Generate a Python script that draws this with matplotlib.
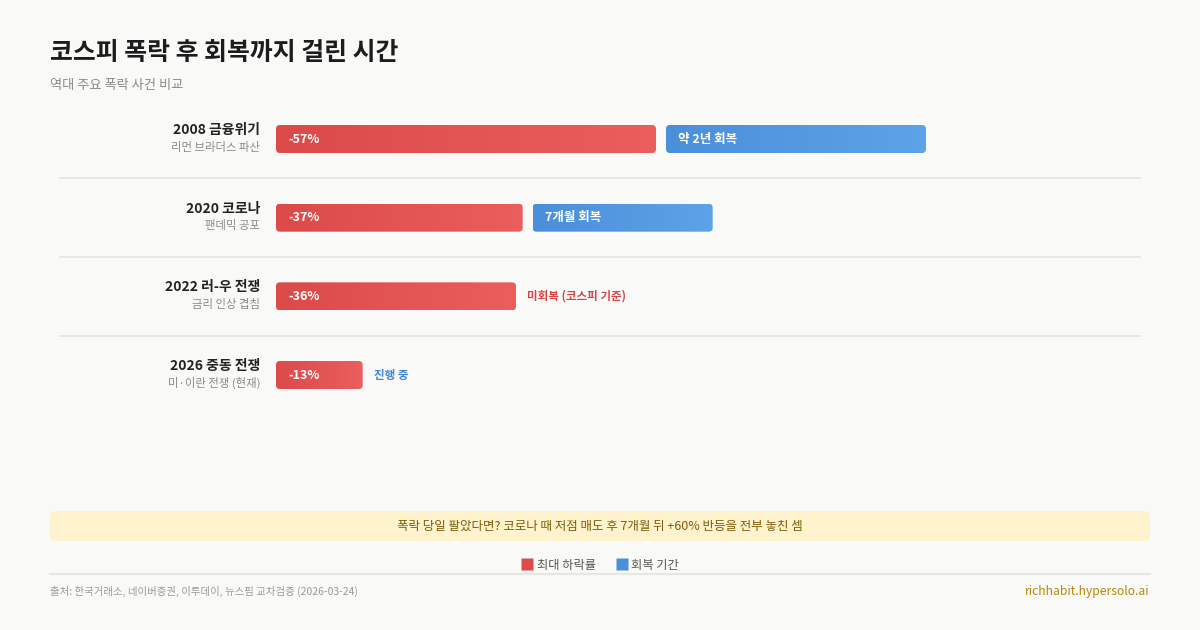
import numpy as np
import matplotlib

matplotlib.use("Agg")
import matplotlib.pyplot as plt
from matplotlib.colors import LinearSegmentedColormap
from matplotlib.lines import Line2D
from matplotlib.patches import FancyBboxPatch
from matplotlib import transforms

plt.rcParams["font.family"] = ["Noto Sans CJK KR", "DejaVu Sans"]

# ---------------------------------------------------------------------------
# Data
# ---------------------------------------------------------------------------
EVENTS = ["2008 금융위기", "2020 코로나", "2022 러-우 전쟁", "2026 중동 전쟁"]
SUBLABELS = ["리먼 브라더스 파산", "팬데믹 공포", "금리 인상 겹침", "미·이란 전쟁 (현재)"]
DROP_PCT = [57, 37, 36, 13]  # maximum drawdown, %
DROP_LABELS = ["-57%", "-37%", "-36%", "-13%"]
# recovery bar length (drawn on the same scale as the drawdown), None = no bar
RECOVERY_LEN = [39, 27, None, None]
RECOVERY_LABELS = ["약 2년 회복", "7개월 회복", "미회복 (코스피 기준)", "진행 중"]

TITLE = "코스피 폭락 후 회복까지 걸린 시간"
SUBTITLE = "역대 주요 폭락 사건 비교"
CALLOUT = "폭락 당일 팔았다면? 코로나 때 저점 매도 후 7개월 뒤 +60% 반등을 전부 놓친 셈"
SOURCE = "출처: 한국거래소, 네이버증권, 이투데이, 뉴스핌 교차검증 (2026-03-24)"
SITE = "richhabit.hypersolo.ai"

# palette
BG = "#f9f9f7"
RED_L, RED_R = "#dc4a4a", "#ea5e5e"
BLUE_L, BLUE_R = "#4a8fd9", "#5da3e8"
RED_TXT = "#d64545"
BLUE_TXT = "#3f86d4"

W, H = 1200, 630
fig = plt.figure(figsize=(W / 100, H / 100), dpi=100, facecolor=BG)

# background / layout axes in pixel coordinates
bg = fig.add_axes([0, 0, 1, 1], zorder=0)
bg.set_xlim(0, W)
bg.set_ylim(H, 0)
bg.axis("off")

bg.text(50, 53, TITLE, fontsize=17.9, fontweight="bold", color="#1c1c1c", va="center")
bg.text(50, 85, SUBTITLE, fontsize=9.5, color="#8a8a8a", va="center")

# callout box
bg.add_patch(FancyBboxPatch((50, 511), 1100, 30, boxstyle="round,pad=0,rounding_size=6",
                            fc="#fff3cd", ec="none"))
bg.text(600, 526, CALLOUT, fontsize=9, color="#7d5c07", ha="center", va="center")

# footer
bg.plot([50, 1150], [574, 574], color="#e6e6e3", lw=1.5)
bg.text(50, 591, SOURCE, fontsize=7.5, color="#9a9a9a", va="center")
bg.text(1150, 591, SITE, fontsize=8.7, color="#b8860b", ha="right", va="center")

# legend
handles = [
    Line2D([], [], ls="none", marker="s", ms=8, mfc=RED_L, mec="none", label="최대 하락률"),
    Line2D([], [], ls="none", marker="s", ms=8, mfc=BLUE_L, mec="none", label="회복 기간"),
]
fig.legend(handles=handles, loc="center", bbox_to_anchor=(0.5, 1 - 565 / H), ncol=2,
           frameon=False, fontsize=8.8, handletextpad=0.3, columnspacing=1.6,
           labelcolor="#555555", handlelength=1.0)

# ---------------------------------------------------------------------------
# Bar axes
# ---------------------------------------------------------------------------
PX_PER_UNIT = 380 / 57
AX_LEFT, AX_W = 276, 900
AX_TOP, ROW = 99.67, 78.67
n = len(EVENTS)
ax = fig.add_axes([AX_LEFT / W, 1 - (AX_TOP + n * ROW) / H, AX_W / W, n * ROW / H],
                  zorder=1)
ax.patch.set_alpha(0)
ax.axis("off")

XMAX = AX_W / PX_PER_UNIT
BAR_H = 28 / ROW
GAP = 10 / PX_PER_UNIT
PAD = 12 / PX_PER_UNIT
R = 4 / PX_PER_UNIT
ASPECT = PX_PER_UNIT / ROW


def grad_bar(x0, y, w, c_left, c_right):
    patch = FancyBboxPatch((x0, y - BAR_H / 2), w, BAR_H,
                           boxstyle=f"round,pad=0,rounding_size={R}",
                           mutation_aspect=ASPECT, fc="none", ec="none")
    ax.add_patch(patch)
    cmap = LinearSegmentedColormap.from_list("g", [c_left, c_right])
    img = ax.imshow(np.linspace(0, 1, 256)[None, :], cmap=cmap, aspect="auto",
                    extent=(x0, x0 + w, y + BAR_H / 2, y - BAR_H / 2),
                    interpolation="bilinear", zorder=2)
    img.set_clip_path(patch)


fig_x = transforms.blended_transform_factory(fig.transFigure, ax.transData)

for i in range(n):
    drop = DROP_PCT[i]
    grad_bar(0, i, drop, RED_L, RED_R)
    ax.text(PAD, i, DROP_LABELS[i], color="white", fontsize=9, fontweight="bold",
            va="center", zorder=3)
    rec = RECOVERY_LEN[i]
    if rec is not None:
        grad_bar(drop + GAP, i, rec, BLUE_L, BLUE_R)
        ax.text(drop + GAP + PAD, i, RECOVERY_LABELS[i], color="white", fontsize=9,
                fontweight="bold", va="center", zorder=3)
    else:
        col = RED_TXT if i == 2 else BLUE_TXT
        ax.text(drop + 11 / PX_PER_UNIT, i, RECOVERY_LABELS[i], color=col, fontsize=8.3,
                fontweight="bold", va="center", zorder=3)

    ax.text(260 / W, i - 9 / ROW, EVENTS[i], transform=fig_x, ha="right", va="center",
            fontsize=10, fontweight="semibold", color="#222222")
    ax.text(260 / W, i + 8 / ROW, SUBLABELS[i], transform=fig_x, ha="right", va="center",
            fontsize=8.2, color="#8a8a8a")
    if i < n - 1:
        ax.plot([60 / W, 1140 / W], [i + 0.5, i + 0.5], transform=fig_x, clip_on=False,
                color="#e4e4e1", lw=1.2)

ax.set_xlim(0, XMAX)
ax.set_ylim(n - 0.5, -0.5)

fig.savefig("out.png", dpi=100, facecolor=BG)
